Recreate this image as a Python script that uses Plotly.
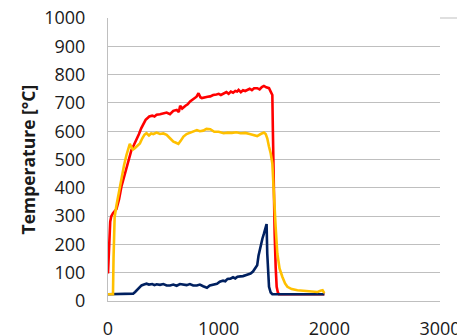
import plotly.graph_objects as go

red_x = [0,10,20,30,45,76,100,121,145,167,190,212,235,258,280,300,318,340,373,400,420,439,470,500,530,560,590,621,640,652,670,700,720,742,770,800,818,835,848,870,900,924,950,980,1000,1020,1045,1070,1090,1110,1130,1150,1167,1180,1200,1220,1240,1258,1280,1300,1320,1348,1370,1390,1409,1430,1455,1470,1485,1490,1494,1500,1506,1515,1524,1535,1545,1600,1700,1800,1900,1955]
red_y = [97,200,280,300,310,325,360,404,440,475,510,534,552,569,590,610,622,640,652,655,652,658,660,662,666,660,672,675,668,690,680,690,695,705,712,722,734,720,717,720,722,723,728,730,732,728,734,738,732,740,736,742,740,746,738,745,742,746,750,745,752,752,748,756,760,755,752,740,728,600,475,350,238,120,50,30,24,24,24,24,24,24]

orange_x = [0,30,45,50,55,60,75,91,105,121,145,167,185,197,210,225,242,265,288,310,330,348,370,390,410,439,470,500,530,560,591,610,636,655,682,710,740,770,803,830,860,890,924,960,1000,1045,1080,1120,1160,1197,1240,1280,1320,1348,1380,1409,1425,1439,1455,1470,1485,1492,1500,1515,1530,1550,1576,1600,1621,1660,1712,1800,1860,1894,1920,1939,1955]
orange_y = [24,24,24,150,260,297,335,368,405,439,480,516,540,555,545,535,540,548,557,575,588,593,585,592,590,595,590,592,587,575,563,560,555,565,581,590,595,600,604,600,602,608,607,598,598,593,595,594,596,593,594,590,586,583,590,595,590,575,545,522,486,420,357,260,168,115,85,62,50,42,38,35,32,32,36,38,28]

blue_x = [0,100,200,227,245,258,280,303,325,348,370,400,420,439,470,500,530,561,590,620,650,682,710,740,770,803,830,860,894,920,950,985,1010,1040,1060,1080,1106,1130,1150,1170,1197,1220,1250,1288,1310,1330,1348,1360,1379,1395,1409,1420,1433,1439,1447,1455,1470,1485,1600,1800,1955]
blue_y = [24,24,24,26,32,38,48,55,58,61,58,60,56,59,57,60,55,55,58,54,60,59,56,60,55,55,58,52,47,55,58,61,68,72,70,78,79,84,80,86,87,88,92,97,104,118,126,160,197,220,238,255,272,168,100,50,30,24,24,24,24]

y_ticks = [0,100,200,300,400,500,600,700,800,900,1000]
x_ticks = [0,1000,2000,3000]

fig = go.Figure()
fig.add_trace(go.Scatter(x=red_x, y=red_y, mode="lines", line=dict(color="#FF0000", width=2.6)))
fig.add_trace(go.Scatter(x=blue_x, y=blue_y, mode="lines", line=dict(color="#002060", width=2.6)))
fig.add_trace(go.Scatter(x=orange_x, y=orange_y, mode="lines", line=dict(color="#FFC000", width=2.6)))

font = dict(family="Open Sans", size=18, color="#1a1a1a")

fig.update_layout(
    width=457, height=336,
    margin=dict(l=108, r=17, t=18, b=35),
    paper_bgcolor="white", plot_bgcolor="white",
    showlegend=False,
    font=font,
    xaxis=dict(range=[0, 3000], tickvals=x_ticks, ticktext=[str(v) for v in x_ticks],
               showgrid=False, zeroline=False, showline=True, linecolor="#BFBFBF", linewidth=1,
               ticks="outside", ticklen=11, tickcolor="rgba(0,0,0,0)", tickfont=font,
               automargin=False, ticklabeloverflow="allow"),
    yaxis=dict(range=[0, 1000], tickvals=y_ticks, ticktext=[str(v) for v in y_ticks],
               showgrid=True, gridcolor="#BFBFBF", gridwidth=1, zeroline=False,
               showline=True, linecolor="#BFBFBF", linewidth=1,
               ticks="outside", ticklen=18, tickcolor="rgba(0,0,0,0)", tickfont=font,
               automargin=False),
    shapes=[dict(type="line", xref="paper", yref="paper", x0=1, x1=1.06, y0=1, y1=1,
                 line=dict(color="#BFBFBF", width=1))],
    annotations=[dict(text="<b>Temperature [°C]</b>", textangle=-90, xref="paper", yref="paper",
                      x=0, y=0.5, xanchor="center", yanchor="middle", xshift=-81, showarrow=False,
                      font=dict(family="Open Sans", size=17.5, color="#1a1a1a"))],
)

fig.write_html("out.html")
